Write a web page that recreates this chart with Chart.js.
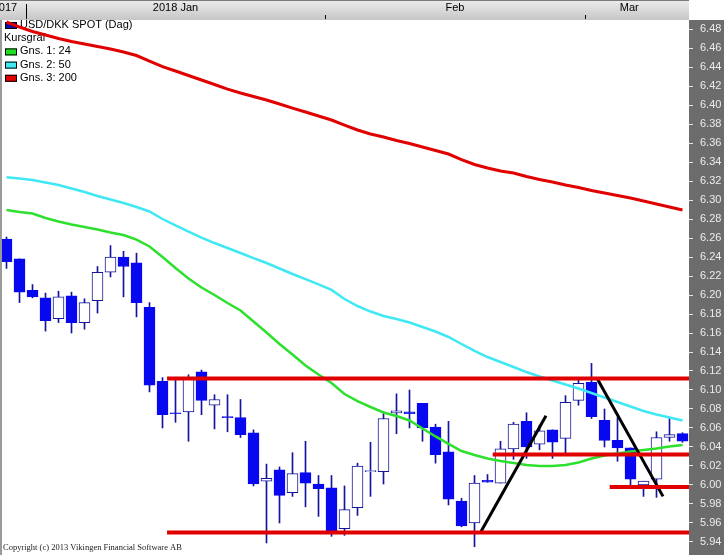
<!DOCTYPE html>
<html>
<head>
<meta charset="utf-8">
<script src="https://cdn.jsdelivr.net/npm/chart.js@4.4.1/dist/chart.umd.min.js"></script>
<style>
  html, body { margin: 0; padding: 0; background: #fff; }
  #wrap { width: 724px; height: 555px; position: relative; }
</style>
</head>
<body>
<div id="wrap"><canvas id="kurs"></canvas></div>
<script>
// USD/DKK spot, daily candles 28 Dec 2017 .. 9 Mar 2018
const opens  = [6.259, 6.238, 6.205, 6.197, 6.175, 6.199, 6.171, 6.194, 6.224, 6.240,
                6.234, 6.187, 6.109, 6.076, 6.077, 6.119, 6.084, 6.072, 6.071, 6.055,
                6.004, 6.016, 5.992, 6.013, 6.001, 5.997, 5.954, 5.976, 6.014, 6.014,
                6.076, 6.077, 6.086, 6.061, 6.035, 5.983, 5.960, 6.005, 6.002, 6.038,
                6.067, 6.043, 6.058, 6.049, 6.089, 6.108, 6.068, 6.047, 6.039, 6.000,
                6.006, 6.050, 6.054];
const highs  = [6.261, 6.238, 6.211, 6.202, 6.204, 6.203, 6.196, 6.230, 6.252, 6.246,
                6.244, 6.192, 6.113, 6.111, 6.116, 6.121, 6.095, 6.095, 6.090, 6.058,
                6.022, 6.019, 6.034, 6.046, 6.010, 6.010, 5.999, 6.023, 6.045, 6.077,
                6.096, 6.100, 6.086, 6.064, 6.067, 5.986, 6.010, 6.011, 6.046, 6.066,
                6.076, 6.063, 6.058, 6.094, 6.111, 6.128, 6.080, 6.071, 6.039, 6.004,
                6.056, 6.071, 6.055];
const lows   = [6.228, 6.192, 6.197, 6.162, 6.171, 6.160, 6.164, 6.181, 6.219, 6.198,
                6.177, 6.098, 6.060, 6.066, 6.046, 6.074, 6.059, 6.056, 6.050, 5.999,
                5.939, 5.960, 5.988, 5.977, 5.967, 5.946, 5.947, 5.968, 5.988, 6.001,
                6.054, 6.060, 6.046, 6.023, 5.979, 5.956, 5.935, 6.003, 6.002, 6.027,
                6.028, 6.037, 6.028, 6.033, 6.084, 6.070, 6.040, 6.025, 6.000, 5.988,
                5.987, 6.046, 6.045];
const closes = [6.235, 6.203, 6.198, 6.173, 6.198, 6.171, 6.192, 6.224, 6.240, 6.230,
                6.192, 6.105, 6.074, 6.075, 6.112, 6.089, 6.090, 6.071, 6.053, 6.001,
                6.007, 5.989, 6.012, 6.002, 5.996, 5.952, 5.974, 6.020, 6.015, 6.070,
                6.078, 6.075, 6.060, 6.032, 5.985, 5.957, 6.002, 6.003, 6.038, 6.064,
                6.040, 6.057, 6.045, 6.087, 6.107, 6.072, 6.047, 6.039, 6.006, 6.004,
                6.050, 6.053, 6.046];

// moving averages (Gns. 1: 24, Gns. 2: 50, Gns. 3: 200)
const ma24  = [6.2895, 6.2874, 6.2858, 6.2811, 6.2774, 6.2742, 6.2716, 6.2689, 6.2658, 6.2632,
               6.2584, 6.2511, 6.2400, 6.2284, 6.2174, 6.2079, 6.2000, 6.1916, 6.1837, 6.1721,
               6.1605, 6.1484, 6.1374, 6.1258, 6.1163, 6.1074, 6.0958, 6.0884, 6.0821, 6.0763,
               6.0726, 6.0679, 6.0595, 6.0511, 6.0432, 6.0358, 6.0316, 6.0279, 6.0253, 6.0232,
               6.0211, 6.0200, 6.0200, 6.0211, 6.0237, 6.0279, 6.0311, 6.0332, 6.0353, 6.0368,
               6.0384, 6.0405, 6.0421];
const ma50  = [6.3239, 6.3226, 6.3211, 6.3184, 6.3158, 6.3121, 6.3084, 6.3042, 6.3005, 6.2968,
               6.2926, 6.2879, 6.2800, 6.2732, 6.2668, 6.2605, 6.2547, 6.2495, 6.2442, 6.2389,
               6.2337, 6.2279, 6.2221, 6.2168, 6.2111, 6.2053, 6.1958, 6.1884, 6.1826, 6.1779,
               6.1747, 6.1711, 6.1663, 6.1616, 6.1558, 6.1484, 6.1411, 6.1347, 6.1295, 6.1242,
               6.1189, 6.1142, 6.1100, 6.1058, 6.1016, 6.0968, 6.0921, 6.0874, 6.0826, 6.0779,
               6.0742, 6.0711, 6.0679];
const ma200 = [6.4874, 6.4821, 6.4774, 6.4737, 6.4700, 6.4668, 6.4642, 6.4616, 6.4589, 6.4558,
               6.4521, 6.4463, 6.4405, 6.4358, 6.4311, 6.4263, 6.4216, 6.4168, 6.4126, 6.4089,
               6.4053, 6.4011, 6.3968, 6.3926, 6.3884, 6.3842, 6.3789, 6.3737, 6.3695, 6.3663,
               6.3626, 6.3595, 6.3558, 6.3521, 6.3484, 6.3426, 6.3374, 6.3337, 6.3305, 6.3284,
               6.3247, 6.3216, 6.3189, 6.3158, 6.3132, 6.3100, 6.3074, 6.3047, 6.3021, 6.2989,
               6.2958, 6.2926, 6.2895];

const yTicks = [5.94, 5.96, 5.98, 6.00, 6.02, 6.04, 6.06, 6.08, 6.10, 6.12, 6.14, 6.16, 6.18, 6.20,
                6.22, 6.24, 6.26, 6.28, 6.30, 6.32, 6.34, 6.36, 6.38, 6.40, 6.42, 6.44, 6.46, 6.48];

// month boundaries (between candles) and month labels
const monthTicks = [1.5, 24.5, 44.5];
const monthNames = ['2017', '2018 Jan', 'Feb', 'Mar'];
const monthLabelAt = [-0.12, 13, 34.5, 47.9];

// hand drawn lines: [fromIndex, fromPrice, toIndex, toPrice]
const levels = [[12.35, 6.112, 52.5, 6.112],
                [12.35, 5.950, 52.5, 5.950],
                [37.4, 6.032, 52.5, 6.032],
                [46.4, 5.998, 52.5, 5.998]];
const trends = [[36.5, 5.951, 41.5, 6.073],
                [45.4, 6.113, 50.5, 5.988]];

const legendRows = [
  { text: 'USD/DKK SPOT (Dag)', color: '#1010a0' },
  { text: 'Kursgraf', color: null },
  { text: 'Gns. 1: 24', color: '#22dd22' },
  { text: 'Gns. 2: 50', color: '#40e8f4' },
  { text: 'Gns. 3: 200', color: '#e00000' }
];

const downColor = '#0808f0';
const edgeColor = '#14149c';

function pts(arr) {
  return arr.map((v, i) => ({ x: i, y: v }));
}
function seg(l) {
  return [{ x: l[0], y: l[1] }, { x: l[2], y: l[3] }];
}

const framePlugin = {
  id: 'frame',
  beforeDraw(chart) {
    const { ctx, chartArea: a, scales: { y } } = chart;
    ctx.save();
    ctx.fillStyle = '#ffffff';
    ctx.fillRect(0, 0, chart.width, chart.height);
    ctx.fillStyle = '#6c6c6c';
    ctx.fillRect(y.left, a.top, chart.width - y.left, chart.height - a.top);
    ctx.restore();
  },
  beforeDatasetsDraw(chart) {
    // legend in top-left corner of the plot
    const ctx = chart.ctx;
    ctx.save();
    ctx.font = '11px "Liberation Sans", Arial, sans-serif';
    ctx.textBaseline = 'middle';
    legendRows.forEach((r, k) => {
      const cy = 25 + k * 13.2;
      let tx = 4;
      if (r.color) {
        ctx.fillStyle = r.color;
        ctx.fillRect(5, cy - 3, 12, 7);
        ctx.strokeStyle = '#000';
        ctx.lineWidth = 1;
        ctx.strokeRect(5.5, cy - 2.5, 11, 6);
        tx = 20;
      }
      ctx.fillStyle = '#000';
      ctx.fillText(r.text, tx, cy);
    });
    ctx.restore();
  },
  afterDraw(chart) {
    const { ctx, chartArea: a, scales: { x } } = chart;
    ctx.save();
    // date header
    const g = ctx.createLinearGradient(0, 0, 0, a.top);
    g.addColorStop(0, '#ececec');
    g.addColorStop(1, '#c6c6c6');
    ctx.fillStyle = g;
    ctx.fillRect(0, 0, a.right, a.top);
    ctx.fillStyle = '#7a7a7a';
    ctx.fillRect(0, 0, a.right, 1);
    ctx.fillStyle = '#000';
    monthTicks.forEach((m, k) => {
      const px = Math.round(x.getPixelForValue(m));
      ctx.fillRect(px, k === 0 ? 4 : 15, 1, k === 0 ? 15 : 4);
    });
    ctx.font = '11px "Liberation Sans", Arial, sans-serif';
    ctx.textBaseline = 'middle';
    ctx.textAlign = 'center';
    monthNames.forEach((n, k) => {
      ctx.fillText(n, x.getPixelForValue(monthLabelAt[k]), 8);
    });
    // left frame edge
    ctx.fillStyle = '#9a9a9a';
    ctx.fillRect(0, a.top, 2, a.bottom - a.top);
    // copyright
    ctx.textAlign = 'left';
    ctx.textBaseline = 'alphabetic';
    ctx.font = '8.5px "Liberation Serif", "Times New Roman", serif';
    ctx.fillStyle = '#222';
    ctx.fillText('Copyright (c) 2013 Vikingen Financial Software AB', 3, 550);
    ctx.restore();
  }
};

const datasets = [];
levels.forEach(l => datasets.push({
  type: 'line', data: seg(l), borderColor: '#e00000', borderWidth: 4,
  pointRadius: 0, order: 0
}));
trends.forEach(l => datasets.push({
  type: 'line', data: seg(l), borderColor: '#000000', borderWidth: 3,
  pointRadius: 0, order: 0
}));
datasets.push(
  { type: 'line', data: pts(ma24), borderColor: '#2ee02e', borderWidth: 2.5, pointRadius: 0, order: 1 },
  { type: 'line', data: pts(ma50), borderColor: '#40e8f4', borderWidth: 2.5, pointRadius: 0, order: 1 },
  { type: 'line', data: pts(ma200), borderColor: '#e00000', borderWidth: 3, pointRadius: 0, order: 1 },
  {
    // candle bodies
    data: opens.map((o, i) => ({ x: i, y: [o, closes[i]] })),
    backgroundColor: c => closes[c.dataIndex] >= opens[c.dataIndex] ? '#ffffff' : downColor,
    borderColor: c => closes[c.dataIndex] >= opens[c.dataIndex] ? edgeColor : downColor,
    borderWidth: 1,
    borderSkipped: false,
    barThickness: 11,
    minBarLength: 1,
    grouped: false,
    order: 2
  },
  {
    // wicks
    data: lows.map((l, i) => ({ x: i, y: [l, highs[i]] })),
    backgroundColor: edgeColor,
    barThickness: 1,
    grouped: false,
    order: 3
  }
);

new Chart(document.getElementById('kurs'), {
  type: 'bar',
  data: { datasets },
  options: {
    responsive: true,
    maintainAspectRatio: false,
    devicePixelRatio: 1,
    animation: false,
    events: [],
    layout: { padding: { top: 20, left: 0, right: 0, bottom: 0 } },
    scales: {
      x: {
        type: 'linear',
        min: -0.5,
        max: 52.5,
        offset: false,
        display: false
      },
      y: {
        type: 'linear',
        position: 'right',
        min: 5.9263,
        max: 6.4895,
        afterBuildTicks: s => { s.ticks = yTicks.map(v => ({ value: v })); },
        afterFit: s => { s.width = 35; s.paddingTop = 0; s.paddingBottom = 0; },
        border: { display: false },
        grid: { drawOnChartArea: false, drawTicks: true, tickLength: 4, color: '#e4e4e4' },
        ticks: {
          color: '#ececec',
          padding: 7,
          font: { family: '"Liberation Sans", Arial, sans-serif', size: 11 },
          callback: v => v.toFixed(2)
        }
      }
    },
    plugins: {
      legend: { display: false },
      tooltip: { enabled: false }
    }
  },
  plugins: [framePlugin]
});
</script>
</body>
</html>
